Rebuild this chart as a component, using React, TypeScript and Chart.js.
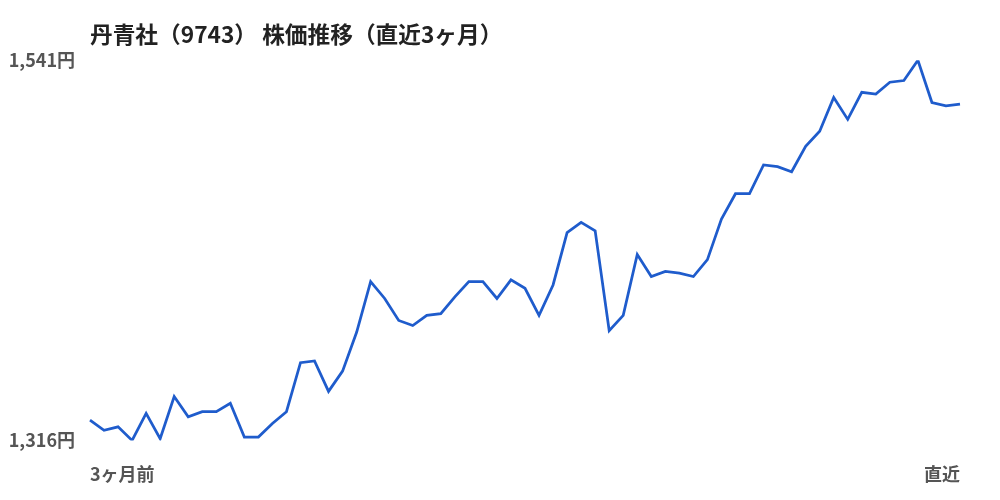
import { useEffect, useRef } from 'react';
import { Chart, registerables } from 'chart.js';

Chart.register(...registerables);

const titleText = '丹青社（9743） 株価推移（直近3ヶ月）';

// closing prices, oldest first (yen)
const prices = [
  1328, 1322, 1324, 1316, 1332, 1317, 1342, 1330, 1333, 1333,
  1338, 1318, 1318, 1326, 1333, 1362, 1363, 1345, 1357, 1380,
  1410, 1400, 1387, 1384, 1390, 1391, 1401, 1410, 1410, 1400,
  1411, 1406, 1390, 1408, 1439, 1445, 1440, 1381, 1390, 1426,
  1413, 1416, 1415, 1413, 1423, 1447, 1462, 1462, 1479, 1478,
  1475, 1490, 1499, 1519, 1506, 1522, 1521, 1528, 1529, 1541,
  1516, 1514, 1515,
];

const xEndLabels = ['3ヶ月前', '直近'];
const yTicks = [1316, 1541];

const FONT = '"Noto Sans CJK JP", "Noto Sans", sans-serif';

export default function App() {
  const canvasRef = useRef<HTMLCanvasElement>(null);
  const chartRef = useRef<Chart | null>(null);

  useEffect(() => {
    document.body.style.margin = '0';
    if (!canvasRef.current) return;
    if (chartRef.current) chartRef.current.destroy();

    const labels = prices.map((_, i) =>
      i === 0 ? xEndLabels[0] : i === prices.length - 1 ? xEndLabels[1] : ''
    );

    chartRef.current = new Chart(canvasRef.current, {
      type: 'line',
      data: {
        labels,
        datasets: [
          {
            data: prices,
            borderColor: '#1f5ccc',
            borderWidth: 2.75,
            pointRadius: 0,
            tension: 0,
            fill: false,
          },
        ],
      },
      options: {
        responsive: false,
        animation: false,
        layout: { padding: { left: 0, right: 40, top: 0, bottom: 0 } },
        plugins: {
          legend: { display: false },
          tooltip: { enabled: false },
          title: {
            display: true,
            text: titleText,
            align: 'start',
            fullSize: false,
            color: '#222',
            font: { family: FONT, size: 22.7, weight: 'bold' },
            padding: { top: 21, bottom: 12 },
          },
        },
        scales: {
          x: {
            grid: { display: false },
            border: { display: false },
            ticks: {
              autoSkip: false,
              maxRotation: 0,
              align: 'inner',
              padding: 15,
              color: '#555',
              font: { family: FONT, size: 18, weight: 'bold' },
            },
          },
          y: {
            min: yTicks[0],
            max: yTicks[1],
            grid: { display: false },
            border: { display: false },
            afterBuildTicks: (scale) => {
              scale.ticks = yTicks.map((v) => ({ value: v }));
            },
            afterFit: (scale) => {
              scale.width = 90;
            },
            ticks: {
              padding: 7,
              color: '#555',
              font: { family: FONT, size: 18, weight: 'bold' },
              callback: (v) => Number(v).toLocaleString('ja-JP') + '円',
            },
          },
        },
      },
    });

    return () => {
      chartRef.current?.destroy();
      chartRef.current = null;
    };
  }, []);

  return (
    <div style={{ width: 1000, height: 500, background: '#fff' }}>
      <canvas ref={canvasRef} width={1000} height={500} />
    </div>
  );
}
